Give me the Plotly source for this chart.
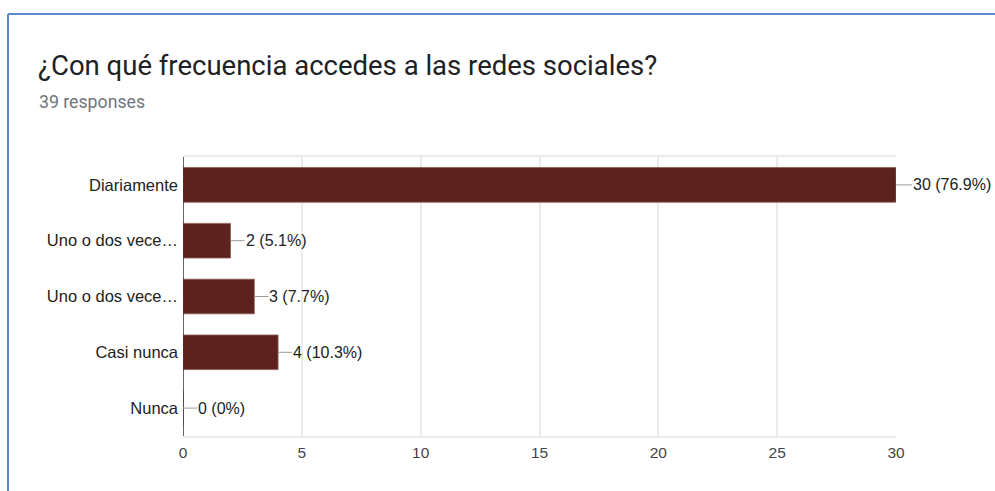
import plotly.graph_objects as go

# Survey results
categories = ["Diariamente", "Uno o dos vece…", "Uno o dos vece…", "Casi nunca", "Nunca"]
counts = [30, 2, 3, 4, 0]
total_responses = 39
tick_values = [0, 5, 10, 15, 20, 25, 30]

title_text = "¿Con qué frecuencia accedes a las redes sociales?"
subtitle_text = f"{total_responses} responses"

BAR_COLOR = "#5c221e"
W, H = 995, 491
M_L, M_R, M_T, M_B = 183, 99, 157, 55
plot_w = W - M_L - M_R
plot_h = H - M_T - M_B

# unique y positions so the two truncated labels stay separate rows
y_pos = list(range(len(categories)))

fig = go.Figure()
fig.add_trace(go.Bar(
    x=counts,
    y=y_pos,
    orientation="h",
    marker=dict(color=BAR_COLOR, line=dict(color="#8c5a57", width=0.8)),
    width=0.62,
    hoverinfo="skip",
))

annotations = []
for yp, c in zip(y_pos, counts):
    pct = c / total_responses * 100
    pct_txt = f"{pct:.1f}".rstrip("0").rstrip(".") if c else "0"
    annotations.append(dict(
        x=c, y=yp, xref="x", yref="y",
        text=f"{c} ({pct_txt}%)",
        showarrow=True, arrowhead=0, arrowwidth=1, arrowcolor="#9a9a9a",
        ax=14 if c != counts[0] else 16, ay=0,
        xanchor="left", yanchor="middle",
        borderpad=0, standoff=0,
        font=dict(family="Liberation Sans, Arial", size=16, color="#222222"),
    ))


def px_x(px):
    return (px - M_L) / plot_w


def px_y(py):
    return (H - M_B - py) / plot_h


annotations.append(dict(
    x=px_x(36), y=px_y(65), xref="paper", yref="paper",
    text=title_text, showarrow=False, xanchor="left", yanchor="middle",
    font=dict(family="Roboto", size=27.5, color="#202124"),
))
annotations.append(dict(
    x=px_x(37), y=px_y(102), xref="paper", yref="paper",
    text=subtitle_text, showarrow=False, xanchor="left", yanchor="middle",
    font=dict(family="Roboto", size=17.7, color="#70757a"),
))

# blue frame along the top and left edges
shapes = [
    dict(type="line", xref="paper", yref="paper",
         x0=px_x(8), x1=px_x(W + 5), y0=px_y(14), y1=px_y(14),
         line=dict(color="#5b8bd0", width=2)),
    dict(type="line", xref="paper", yref="paper",
         x0=px_x(8), x1=px_x(8), y0=px_y(14), y1=px_y(H + 5),
         line=dict(color="#5b8bd0", width=2)),
    # dark vertical axis line at zero
    dict(type="line", xref="x", yref="paper", x0=0, x1=0, y0=0, y1=1,
         line=dict(color="#333333", width=1.5), layer="above"),
]

fig.update_layout(
    width=W, height=H,
    margin=dict(l=M_L, r=M_R, t=M_T, b=M_B),
    paper_bgcolor="white", plot_bgcolor="white",
    showlegend=False,
    bargap=0.38,
    annotations=annotations,
    shapes=shapes,
    xaxis=dict(
        range=[0, 30], tickvals=tick_values, ticktext=[str(v) for v in tick_values],
        showgrid=True, gridcolor="#ebebeb", gridwidth=1.5,
        zeroline=False, showline=True, linecolor="#ebebeb", linewidth=1.5, mirror=True,
        tickfont=dict(family="Liberation Sans, Arial", size=15.5, color="#444444"),
        ticks="", ticklabelstandoff=2, fixedrange=True,
    ),
    yaxis=dict(
        range=[len(categories) - 0.5, -0.5],
        tickvals=y_pos, ticktext=categories,
        showgrid=False, zeroline=False, showline=False,
        tickfont=dict(family="Liberation Sans, Arial", size=16.5, color="#222222"),
        ticks="", ticklabelstandoff=4, fixedrange=True,
    ),
)

fig.write_html("out.html")
